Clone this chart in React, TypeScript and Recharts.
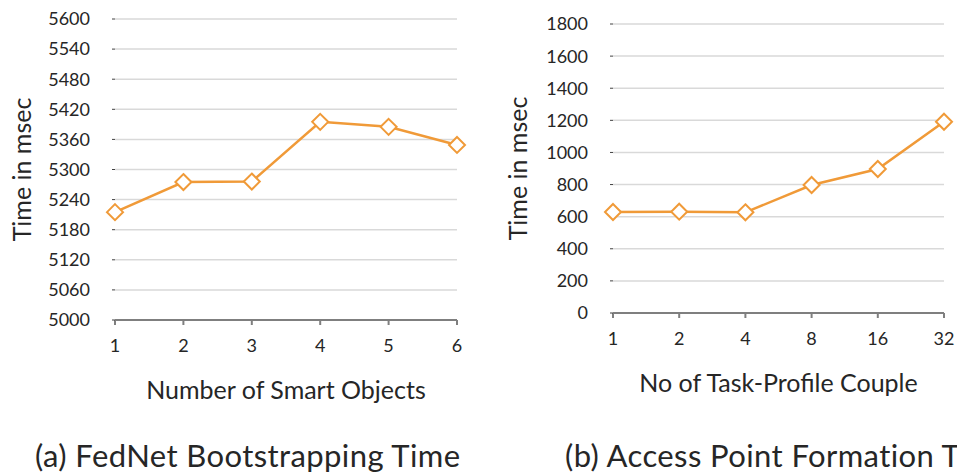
import { LineChart, Line, XAxis, YAxis, CartesianGrid } from 'recharts';

const smartObjects = ['1', '2', '3', '4', '5', '6'];
const bootstrapTimes = [5215, 5275, 5276, 5395, 5385, 5349];
const bootstrapTicks = [5000, 5060, 5120, 5180, 5240, 5300, 5360, 5420, 5480, 5540, 5600];

const taskProfileCouples = ['1', '2', '4', '8', '16', '32'];
const formationTimes = [629, 631, 627, 797, 897, 1191];
const formationTicks = [0, 200, 400, 600, 800, 1000, 1200, 1400, 1600, 1800];

const ORANGE = '#F09A38';
const FONT = 'Lato, "Open Sans", sans-serif';
const TEXT = '#262626';

const bootstrapData = smartObjects.map((x, i) => ({ x, time: bootstrapTimes[i] }));
const formationData = taskProfileCouples.map((x, i) => ({ x, time: formationTimes[i] }));

// hollow diamond marker like the excel one
const Diamond = (props: any) => {
  const { cx, cy } = props;
  if (cx == null || cy == null) return null;
  const r = 8;
  return (
    <path
      d={`M${cx},${cy - r} L${cx + r},${cy} L${cx},${cy + r} L${cx - r},${cy} Z`}
      fill="#fff"
      stroke={ORANGE}
      strokeWidth={2}
    />
  );
};

interface PanelProps {
  data: { x: string; time: number }[];
  ticks: number[];
  xTitle: string;
  width: number;
  height: number;
  margin: { top: number; right: number; left: number; bottom: number };
  yWidth: number;
  titleOffset: number;
}

const Panel = ({ data, ticks, xTitle, width, height, margin, yWidth, titleOffset }: PanelProps) => (
  <LineChart width={width} height={height} data={data} margin={margin}>
    <CartesianGrid vertical={false} stroke="#d9d9d9" strokeWidth={1.5} />
    <XAxis
      dataKey="x"
      scale="point"
      padding={{ left: 0, right: 0 }}
      stroke="#7f7f7f"
      strokeWidth={2}
      tickSize={5}
      tickMargin={14}
      height={85}
      tick={{ fill: TEXT, fontSize: 18, fontFamily: FONT }}
      label={{
        value: xTitle,
        position: 'insideBottom',
        offset: 6,
        style: { fill: TEXT, fontSize: 25, fontFamily: FONT },
      }}
    />
    <YAxis
      domain={[ticks[0], ticks[ticks.length - 1]]}
      ticks={ticks}
      interval={0}
      axisLine={false}
      tickSize={3}
      tickLine={{ stroke: '#404040' }}
      tickMargin={22}
      width={yWidth}
      tick={{ fill: TEXT, fontSize: 18, fontFamily: FONT }}
      label={{
        value: 'Time in msec',
        angle: -90,
        position: 'insideLeft',
        offset: titleOffset,
        style: { fill: TEXT, fontSize: 25, fontFamily: FONT, textAnchor: 'middle' },
      }}
    />
    <Line
      type="linear"
      dataKey="time"
      stroke={ORANGE}
      strokeWidth={2.5}
      dot={<Diamond />}
      activeDot={false}
      isAnimationActive={false}
    />
  </LineChart>
);

const captionStyle: React.CSSProperties = {
  position: 'absolute',
  top: 436,
  fontFamily: FONT,
  fontSize: 31,
  letterSpacing: 0.4,
  color: TEXT,
  whiteSpace: 'nowrap',
  lineHeight: '38px',
};

export default function App() {
  return (
    <div
      style={{
        position: 'absolute',
        left: 0,
        top: 0,
        width: 957,
        height: 475,
        overflow: 'hidden',
        background: '#fff',
      }}
    >
      <div style={{ position: 'absolute', left: 0, top: 0 }}>
        <Panel
          data={bootstrapData}
          ticks={bootstrapTicks}
          xTitle="Number of Smart Objects"
          width={470}
          height={405}
          margin={{ top: 19, right: 13, left: 0, bottom: 0 }}
          yWidth={115}
          titleOffset={22}
        />
      </div>
      <div style={{ position: 'absolute', left: 490, top: 0 }}>
        <Panel
          data={formationData}
          ticks={formationTicks}
          xTitle="No of Task-Profile Couple"
          width={467}
          height={398}
          margin={{ top: 24, right: 13, left: 0, bottom: 0 }}
          yWidth={123}
          titleOffset={28}
        />
      </div>
      <div style={{ ...captionStyle, left: 35 }}>(a) FedNet Bootstrapping Time</div>
      <div style={{ ...captionStyle, left: 565 }}>(b) Access Point Formation Time</div>
    </div>
  );
}
